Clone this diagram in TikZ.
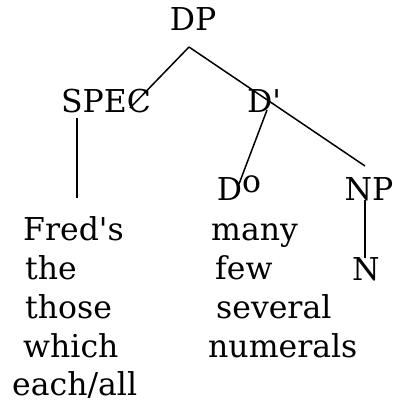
\documentclass[tikz,border=0pt]{standalone}
\usepackage{fontspec}
\setmainfont{DejaVu Serif}
\begin{document}
\begin{tikzpicture}[x=1pt,y=-1pt,
  lbl/.style={inner sep=0pt, anchor=base west, font=\fontsize{31.5}{36}\selectfont},
  cat/.style={inner sep=0pt, anchor=base, font=\fontsize{31.5}{36}\selectfont},
  branch/.style={line width=1.5pt}]
\useasboundingbox (0,0) rectangle (392,404);
% category labels
\node[cat] (DP) at (193,31) {DP};
\node[cat] (SPEC) at (106,112) {SPEC};
\node[cat] (Dbar) at (264,112) {D\textquotesingle};
\node[cat] (D0) at (239,200) {D\raisebox{8pt}{o}};
\node[cat] (NP) at (369,200) {NP};
\node[cat] (N) at (366,280) {N};
% left column
\node[lbl] (l1) at (23,240) {Fred\textquotesingle s};
\node[lbl] (l2) at (25,279) {the};
\node[lbl] (l3) at (25,318) {those};
\node[lbl] (l4) at (23,357) {which};
\node[lbl] (l5) at (12,395) {each/all};
% right column
\node[lbl] (r1) at (211,240) {many};
\node[lbl] (r2) at (215,279) {few};
\node[lbl] (r3) at (216,318) {several};
\node[lbl] (r4) at (208,357) {numerals};
% connector end points
\coordinate (dpfoot) at (189,47);
\coordinate (specend) at (130,108);
\coordinate (npend) at (365,166);
\coordinate (dbarfoot) at (267,110);
\coordinate (dzeroend) at (239,184);
\coordinate (specfoot) at (77,118);
\coordinate (fredtop) at (77,198);
\coordinate (npfoot) at (365,200);
\coordinate (ntop) at (365,258);
% branches
\draw[branch] (dpfoot) -- (specend);
\draw[branch] (dpfoot) -- (npend);
\draw[branch] (dbarfoot) -- (dzeroend);
\draw[branch] (specfoot) -- (fredtop);
\draw[branch] (npfoot) -- (ntop);
\end{tikzpicture}
\end{document}
